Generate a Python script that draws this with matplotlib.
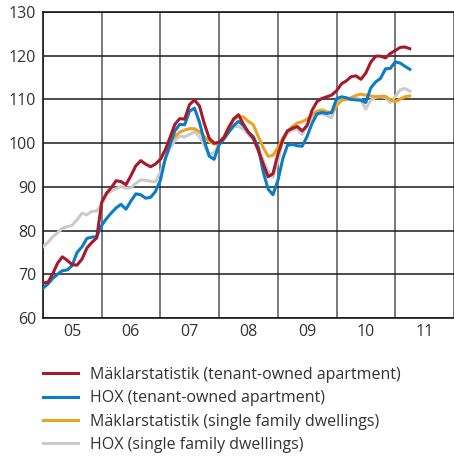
import matplotlib
matplotlib.use("Agg")
import matplotlib.pyplot as plt
import matplotlib.dates as mdates
import numpy as np
import pandas as pd

# Monthly index values, Jan 2005 - Apr 2011
months = pd.date_range("2005-01-01", periods=76, freq="MS")

mäklar_apartment = [68.0, 68.2, 70.0, 72.5, 74.0, 73.2, 72.2, 72.1, 73.5, 76.0, 77.3, 78.3,
                    86.5, 88.6, 89.8, 91.4, 91.2, 90.5, 92.5, 94.8, 96.0, 95.2, 94.6, 95.2,
                    96.3, 98.5, 101.2, 104.3, 105.6, 105.5, 108.8, 109.9, 108.5, 104.5, 101.1, 100.0,
                    100.2, 101.3, 103.5, 105.6, 106.5, 104.3, 102.5, 101.1, 98.3, 95.3, 92.3, 93.0,
                    97.5, 100.8, 102.8, 103.4, 103.8, 102.8, 104.0, 107.5, 109.5, 110.2, 110.6, 111.0,
                    112.0, 113.6, 114.2, 115.2, 115.4, 114.6, 116.0, 118.5, 119.9, 119.9, 119.5, 120.5,
                    121.2, 121.9, 122.0, 121.6]

hox_apartment = [66.8, 67.8, 69.0, 70.0, 70.8, 71.0, 72.0, 75.0, 76.3, 78.2, 78.5, 78.6,
                 81.2, 82.8, 84.0, 85.2, 86.0, 84.9, 86.7, 88.4, 88.2, 87.4, 87.6, 88.9,
                 91.5, 96.5, 99.5, 102.8, 104.3, 104.2, 107.3, 108.0, 104.8, 100.5, 97.0, 96.3,
                 99.6, 101.0, 102.5, 104.0, 105.0, 104.0, 102.5, 101.5, 99.0, 93.5, 89.5, 88.2,
                 91.5, 96.5, 99.5, 99.7, 99.4, 99.3, 101.5, 104.5, 106.7, 107.0, 106.8, 107.0,
                 110.2, 110.6, 110.4, 110.0, 109.9, 109.8, 109.3, 112.6, 114.0, 114.8, 117.0, 117.1,
                 118.6, 118.3, 117.6, 116.9]

# Mäklarstatistik single family starts Jan 2007
mäklar_house_start = 24
mäklar_house = [96.5, 98.5, 100.3, 101.5, 102.5, 103.0, 103.3, 103.3, 102.6, 101.5, 100.3, 99.8,
                99.8, 101.5, 103.8, 105.3, 106.1, 106.0, 105.0, 104.2, 101.5, 99.0, 97.0, 97.2,
                99.0, 101.2, 102.7, 103.8, 104.6, 104.9, 105.5, 106.5, 107.3, 107.6, 107.2, 106.9,
                108.6, 109.8, 110.0, 110.4, 110.9, 111.2, 111.0, 110.8, 110.6, 110.7, 110.7, 109.9,
                109.5, 110.1, 110.6, 110.8]

hox_house = [76.3, 77.3, 78.5, 79.5, 80.5, 80.9, 81.2, 82.5, 84.0, 83.6, 84.4, 84.5,
             86.0, 88.3, 89.0, 89.6, 90.1, 89.7, 89.8, 90.8, 91.6, 91.5, 91.3, 91.2,
             93.3, 96.5, 98.8, 100.6, 101.6, 101.4, 102.0, 102.6, 101.5, 99.5, 97.3, 97.8,
             99.7, 101.3, 102.6, 103.8, 103.8, 103.2, 102.0, 100.8, 99.0, 96.2, 93.5, 92.2,
             96.0, 100.5, 102.3, 103.0, 103.2, 102.0, 104.0, 106.0, 106.6, 106.8, 106.3, 105.8,
             109.0, 110.2, 110.0, 109.9, 110.3, 110.0, 107.8, 109.8, 110.5, 110.6, 110.4, 109.3,
             110.7, 112.2, 112.5, 111.9]

labels = ["Mäklarstatistik (tenant-owned apartment)",
          "HOX (tenant-owned apartment)",
          "Mäklarstatistik (single family dwellings)",
          "HOX (single family dwellings)"]
colors = ["#a61b2b", "#0b7dc6", "#eca322", "#cbcbcb"]
year_labels = ["05", "06", "07", "08", "09", "10", "11"]
yticks = [60, 70, 80, 90, 100, 110, 120, 130]

plt.rcParams["font.family"] = ["Open Sans", "DejaVu Sans"]

fig = plt.figure(figsize=(4.54, 4.58), dpi=100)
ax = fig.add_axes([43 / 454, 1 - 318 / 458, 1 - 43 / 454, 306 / 458])

lw = 2.2
h_gray, = ax.plot(months, hox_house, color=colors[3], lw=lw, zorder=3)
h_orange, = ax.plot(months[mäklar_house_start:], mäklar_house, color=colors[2], lw=lw, zorder=4)
h_blue, = ax.plot(months, hox_apartment, color=colors[1], lw=lw, zorder=5)
h_red, = ax.plot(months, mäklar_apartment, color=colors[0], lw=lw, zorder=6)

ax.set_xlim(pd.Timestamp("2005-01-01"), pd.Timestamp("2012-01-01"))
ax.set_ylim(60, 130)
ax.set_yticks(yticks)
ax.set_yticklabels([str(v) for v in yticks])

ax.xaxis.set_major_locator(mdates.YearLocator())
ax.xaxis.set_major_formatter(plt.NullFormatter())
ax.xaxis.set_minor_locator(mdates.MonthLocator(bymonth=7))
ax.xaxis.set_minor_formatter(plt.FixedFormatter(year_labels))

ax.tick_params(axis="both", which="both", length=0, labelsize=11.5, colors="#333333")
ax.tick_params(axis="y", pad=5)
ax.tick_params(axis="x", which="minor", pad=4)

ax.grid(axis="y", color="#1a1a1a", lw=1.1, zorder=1)
ax.grid(axis="x", which="major", color="#555555", lw=1.1, zorder=1)

for side in ["left", "bottom", "top"]:
    ax.spines[side].set_color("#1a1a1a")
    ax.spines[side].set_linewidth(1.2)
ax.spines["right"].set_visible(False)

fig.legend([h_red, h_blue, h_orange, h_gray], labels,
           loc="upper left", bbox_to_anchor=(43 / 454, 1 - 367 / 458),
           frameon=False, fontsize=11.5, borderpad=0, borderaxespad=0,
           handlelength=2.2, handletextpad=0.75, labelspacing=0.46,
           labelcolor="#333333")

fig.savefig("out.png", dpi=100)
